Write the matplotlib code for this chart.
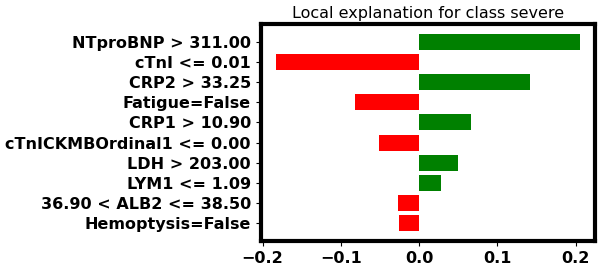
import matplotlib
matplotlib.use("Agg")
import matplotlib.pyplot as plt

features = ["NTproBNP > 311.00", "cTnI <= 0.01", "CRP2 > 33.25", "Fatigue=False",
            "CRP1 > 10.90", "cTnICKMBOrdinal1 <= 0.00", "LDH > 203.00", "LYM1 <= 1.09",
            "36.90 < ALB2 <= 38.50", "Hemoptysis=False"]
weights = [0.2055, -0.183, 0.142, -0.0818, 0.0665, -0.0511, 0.0499, 0.0281, -0.0269, -0.0256]
title = "Local explanation for class severe"

fig = plt.figure(figsize=(6.01, 2.71), dpi=100)
ax = fig.add_axes([260.7/601, 30/271, (595-260.7)/601, (241-24)/271])

vals = weights[::-1]
names = features[::-1]
colors = ["green" if v > 0 else "red" for v in vals]
pos = list(range(len(vals)))
ax.barh(pos, vals, height=0.8, color=colors, align="center")
ax.set_yticks(pos)
ax.set_yticklabels(names)
ax.set_title(title, fontsize=11.5, pad=4)
for s in ax.spines.values():
    s.set_linewidth(3)
ax.set_xticks([-0.2, -0.1, 0.0, 0.1, 0.2])
ax.set_xticklabels(["\u22120.2", "\u22120.1", "0.0", "0.1", "0.2"])
for lab in ax.get_xticklabels() + ax.get_yticklabels():
    lab.set_fontweight("bold")
    lab.set_fontsize(11.5)

fig.savefig("out.png", dpi=100)
